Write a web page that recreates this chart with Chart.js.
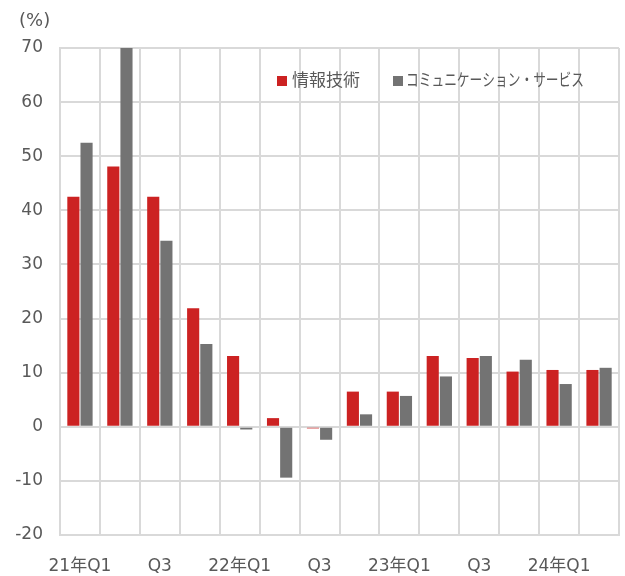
<!DOCTYPE html>
<html>
<head>
<meta charset="utf-8">
<script src="https://cdn.jsdelivr.net/npm/chart.js@4.4.0/dist/chart.umd.min.js"></script>
<style>
  html, body { margin: 0; padding: 0; background: #fff; }
  #wrap { width: 625px; height: 576px; }
</style>
</head>
<body>
<div id="wrap"><canvas id="grafico"></canvas></div>
<script>
// 四半期ラベル（2つおきに表示）
var quarters = ['21年Q1', '', 'Q3', '', '22年Q1', '', 'Q3', '', '23年Q1', '', 'Q3', '', '24年Q1', ''];
var seriesNames = ['情報技術', 'コミュニケーション・サービス'];
var infoTech = [42.5, 48.1, 42.5, 21.9, 13.1, 1.6, -0.3, 6.5, 6.5, 13.1, 12.7, 10.2, 10.5, 10.5];
var commServices = [52.5, 71, 34.4, 15.3, -0.5, -9.4, -2.4, 2.3, 5.7, 9.3, 13.1, 12.4, 7.9, 10.9];
var yTicks = [-20, -10, 0, 10, 20, 30, 40, 50, 60, 70];

var FONT = '"DejaVu Sans", "Noto Sans CJK JP", sans-serif';
var GRID = '#d9d9d9';
var TXT = '#595959';

// 凡例と単位（グラフ内に描く）
var extras = {
  id: 'extras',
  afterDraw: function(chart) {
    var ctx = chart.ctx;
    ctx.save();
    ctx.fillStyle = TXT;
    ctx.textBaseline = 'middle';
    ctx.textAlign = 'left';
    ctx.font = '18px ' + FONT;
    ctx.fillText('(%)', 19, 21, 33);

    ctx.font = '17px ' + FONT;
    var items = [
      { box: 277, text: 292, w: 70 },
      { box: 393, text: 406, w: 178 }
    ];
    chart.data.datasets.forEach(function(ds, i) {
      var it = items[i];
      ctx.fillStyle = ds.backgroundColor;
      ctx.fillRect(it.box, 76, 10, 10);
      ctx.fillStyle = TXT;
      ctx.fillText(ds.label, it.text, 82, it.w);
    });
    ctx.restore();
  }
};

new Chart(document.getElementById('grafico').getContext('2d'), {
  type: 'bar',
  data: {
    labels: quarters,
    datasets: [{
      label: seriesNames[0],
      backgroundColor: '#cc2222',
      data: infoTech
    }, {
      label: seriesNames[1],
      backgroundColor: '#737373',
      data: commServices
    }]
  },
  options: {
    responsive: true,
    maintainAspectRatio: false,
    animation: false,
    categoryPercentage: 0.66,
    barPercentage: 0.92,
    layout: { padding: { top: 48, right: 6, left: 0, bottom: 0 } },
    plugins: {
      legend: { display: false },
      tooltip: { enabled: false }
    },
    scales: {
      x: {
        grid: { color: GRID, lineWidth: 2, drawTicks: false, offset: true },
        border: { color: GRID, width: 2 },
        ticks: {
          color: TXT,
          font: { family: FONT, size: 17 },
          padding: 21,
          autoSkip: false,
          maxRotation: 0
        },
        afterFit: function(scale) { scale.height = 41; }
      },
      y: {
        min: -20,
        max: 70,
        afterBuildTicks: function(scale) {
          scale.ticks = yTicks.map(function(v) { return { value: v }; });
        },
        grid: { color: GRID, lineWidth: 2, drawTicks: false },
        border: { color: GRID, width: 2 },
        ticks: {
          color: TXT,
          font: { family: FONT, size: 17 },
          padding: 17
        },
        afterFit: function(scale) { scale.width = 60; }
      }
    }
  },
  plugins: [extras]
});
</script>
</body>
</html>
